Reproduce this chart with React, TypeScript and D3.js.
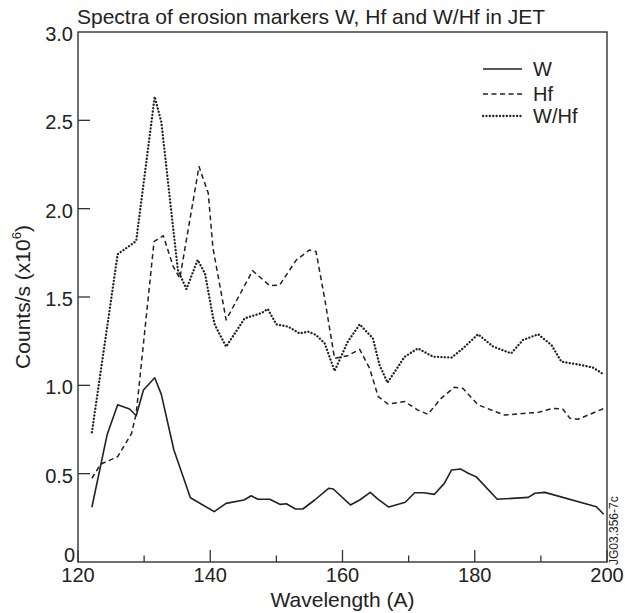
import React from 'react';
import * as d3 from 'd3';

// W (solid)
const wLambda = [122.1, 124.4, 126.0, 127.8, 128.8, 129.9, 131.6, 132.6, 134.5, 137.0, 140.6, 142.4, 145.1, 146.2, 147.2, 149.0, 150.6, 151.5, 152.9, 154.0, 155.8, 157.9, 158.6, 161.2, 162.6, 164.2, 165.4, 167.0, 169.5, 170.9, 172.3, 173.9, 175.4, 176.5, 177.9, 179.0, 180.2, 183.4, 188.1, 189.1, 190.6, 198.4, 199.5];
const wValues = [0.31, 0.72, 0.89, 0.866, 0.828, 0.974, 1.043, 0.949, 0.634, 0.364, 0.285, 0.332, 0.351, 0.375, 0.355, 0.355, 0.326, 0.33, 0.30, 0.30, 0.351, 0.417, 0.413, 0.323, 0.351, 0.394, 0.355, 0.311, 0.338, 0.392, 0.392, 0.383, 0.445, 0.521, 0.526, 0.502, 0.483, 0.355, 0.366, 0.389, 0.394, 0.313, 0.27];

// Hf (dashed)
const hfLambda = [122.1, 123.4, 126.0, 128.1, 128.8, 131.5, 132.9, 134.4, 135.4, 138.3, 139.7, 140.4, 142.4, 146.4, 149.0, 150.5, 153.0, 155.0, 156.0, 157.3, 158.8, 160.8, 162.6, 164.1, 165.4, 166.9, 169.4, 171.4, 172.9, 174.9, 176.9, 178.2, 180.5, 184.5, 189.6, 191.8, 193.3, 194.4, 195.6, 199.6];
const hfValues = [0.474, 0.553, 0.596, 0.728, 0.84, 1.813, 1.847, 1.672, 1.606, 2.238, 2.087, 1.78, 1.37, 1.649, 1.564, 1.568, 1.709, 1.766, 1.757, 1.492, 1.153, 1.168, 1.204, 1.096, 0.936, 0.894, 0.908, 0.86, 0.836, 0.926, 0.989, 0.983, 0.889, 0.832, 0.847, 0.87, 0.866, 0.813, 0.808, 0.87];

// W/Hf (dotted)
const ratioLambda = [122.1, 126.0, 128.8, 131.6, 132.6, 135.1, 136.4, 137.4, 138.1, 139.2, 140.4, 140.7, 142.4, 145.2, 147.7, 148.7, 150.0, 151.8, 153.5, 154.8, 156.0, 157.3, 158.8, 160.8, 162.6, 164.6, 165.6, 166.8, 169.4, 171.4, 173.7, 176.5, 178.2, 180.5, 182.8, 185.5, 187.3, 189.6, 191.6, 193.1, 196.1, 197.9, 199.5];
const ratioValues = [0.734, 1.742, 1.817, 2.634, 2.491, 1.653, 1.545, 1.643, 1.71, 1.634, 1.389, 1.342, 1.219, 1.379, 1.408, 1.432, 1.345, 1.332, 1.294, 1.304, 1.285, 1.238, 1.081, 1.247, 1.345, 1.266, 1.115, 1.015, 1.162, 1.209, 1.162, 1.157, 1.209, 1.289, 1.219, 1.181, 1.257, 1.289, 1.228, 1.134, 1.115, 1.1, 1.062];

const xMajorTicks = [120, 140, 160, 180, 200];
const xMinorTicks = [130, 150, 170, 190];
const yTicks = [0, 0.5, 1.0, 1.5, 2.0, 2.5, 3.0];
const yTickLabels = ['0', '0.5', '1.0', '1.5', '2.0', '2.5', '3.0'];
const legendNames = ['W', 'Hf', 'W/Hf'];

const FONT = '"Liberation Sans", Arial, Helvetica, sans-serif';
const INK = '#222';

export default function App() {
  const left = 78, right = 607, top = 32, bottom = 562;
  const x = d3.scaleLinear().domain([120, 200]).range([left, right]);
  const y = d3.scaleLinear().domain([0, 3]).range([bottom, top]);
  const line = d3.line<[number, number]>().x(d => x(d[0])).y(d => y(d[1]));
  const zip = (a: number[], b: number[]) => a.map((v, i) => [v, b[i]] as [number, number]);

  const series = [
    { name: legendNames[0], d: line(zip(wLambda, wValues)) || '', dash: undefined, width: 1.6, cap: 'butt' },
    { name: legendNames[1], d: line(zip(hfLambda, hfValues)) || '', dash: '5 3.5', width: 1.5, cap: 'butt' },
    { name: legendNames[2], d: line(zip(ratioLambda, ratioValues)) || '', dash: '0.1 3.3', width: 2.3, cap: 'round' },
  ];
  const legendY = [69, 94, 116];

  return (
    <svg width={625} height={613} style={{ position: 'absolute', left: 0, top: 0, background: '#fff' }} fontFamily={FONT}>
      <rect x={0} y={0} width={625} height={613} fill="#fff" />
      <text x={77} y={24} fontSize={21} fill={INK}>Spectra of erosion markers W, Hf and W/Hf in JET</text>

      {series.map(s => (
        <path key={s.name} d={s.d} fill="none" stroke={INK} strokeWidth={s.width}
          strokeDasharray={s.dash} strokeLinecap={s.cap as any} strokeLinejoin="round" />
      ))}

      <rect x={left} y={top} width={right - left} height={bottom - top} fill="none" stroke="#333" strokeWidth={1.4} />

      {xMajorTicks.map(t => (
        <g key={'xM' + t}>
          <line x1={x(t)} x2={x(t)} y1={bottom} y2={bottom - 12} stroke="#333" strokeWidth={1.3} />
          <text x={x(t)} y={582} fontSize={20} textAnchor="middle" fill={INK}>{t}</text>
        </g>
      ))}
      {xMinorTicks.map(t => (
        <line key={'xm' + t} x1={x(t)} x2={x(t)} y1={bottom} y2={bottom - 6.5} stroke="#333" strokeWidth={1.3} />
      ))}
      {yTicks.map((t, i) => (
        <g key={'y' + t}>
          {t > 0 && t < 3 && <line x1={left} x2={left + 12} y1={y(t)} y2={y(t)} stroke="#333" strokeWidth={1.3} />}
          <text x={t === 0 ? 75 : 73} y={t === 0 ? y(t) - 0.5 : y(t) + 9} fontSize={20} textAnchor="end" fill={INK}>{yTickLabels[i]}</text>
        </g>
      ))}

      <text x={(left + right) / 2} y={607} fontSize={21} textAnchor="middle" fill={INK}>Wavelength (A)</text>
      <text transform={`translate(30, ${(top + bottom) / 2}) rotate(-90)`} fontSize={21} textAnchor="middle" fill={INK}>
        Counts/s (x10<tspan fontSize={13} dy={-9}>6</tspan><tspan dy={9}>)</tspan>
      </text>

      {series.map((s, i) => (
        <g key={'leg' + s.name}>
          <line x1={483} x2={522} y1={legendY[i]} y2={legendY[i]} stroke={INK} strokeWidth={s.width}
            strokeDasharray={s.dash} strokeLinecap={s.cap as any} />
          <text x={533} y={legendY[i] + 7} fontSize={20} fill={INK}>{s.name}</text>
        </g>
      ))}

      <text transform="translate(618, 565) rotate(-90)" fontSize={12} fill={INK}>JG03.356-7c</text>
    </svg>
  );
}
